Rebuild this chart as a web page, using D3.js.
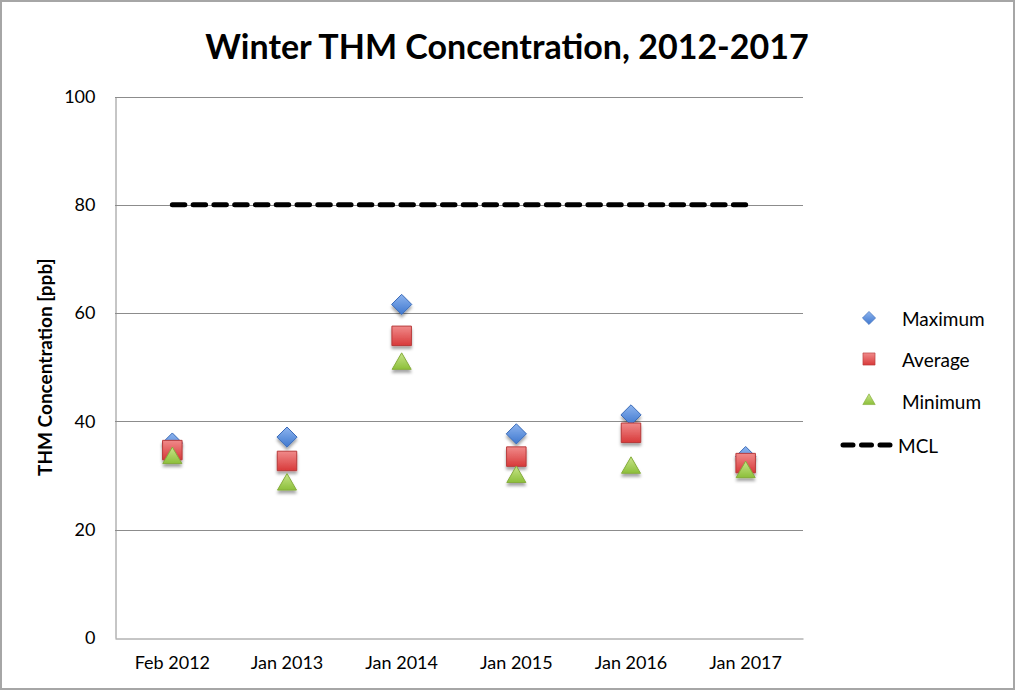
<!DOCTYPE html>
<html><head><meta charset="utf-8">
<script src="https://cdn.jsdelivr.net/npm/d3@7"></script>
<style>body{margin:0;background:#fff;} svg{display:block;}</style>
</head><body>
<script>
const categories = ["Feb 2012","Jan 2013","Jan 2014","Jan 2015","Jan 2016","Jan 2017"];
const maximum = [36.0, 37.1, 61.6, 37.7, 41.2, 33.5];
const average = [34.7, 32.7, 55.8, 33.5, 37.9, 32.3];
const minimum = [33.6, 28.7, 51.0, 30.1, 31.8, 31.0];
const mcl = [80, 80, 80, 80, 80, 80];
const yTicks = [0, 20, 40, 60, 80, 100];
const seriesNames = ["Maximum", "Average", "Minimum", "MCL"];

const W = 1017, H = 692;
const m = {left:115, right:214, top:96.5, bottom:54};
const svg = d3.select("body").append("svg").attr("width", W).attr("height", H);
const defs = svg.append("defs");

function grad(id, c1, c2){
  const g = defs.append("linearGradient").attr("id", id).attr("x1",0).attr("y1",0).attr("x2",0).attr("y2",1);
  g.append("stop").attr("offset","0%").attr("stop-color",c1);
  g.append("stop").attr("offset","100%").attr("stop-color",c2);
}
grad("gBlue", "#8db4ee", "#3f78cf");
grad("gRed", "#f08a8a", "#d83a3a");
grad("gGreen", "#c8e58a", "#8cbf3a");
const f = defs.append("filter").attr("id","shadow").attr("x","-50%").attr("y","-50%").attr("width","200%").attr("height","200%");
f.append("feDropShadow").attr("dx",0).attr("dy",3).attr("stdDeviation",1.6).attr("flood-color","#000").attr("flood-opacity",0.35);

svg.append("rect").attr("x",1).attr("y",1).attr("width",1013).attr("height",688)
  .attr("fill","#fff").attr("stroke","#a6a6a6").attr("stroke-width",2);

const x = d3.scaleBand().domain(categories).range([m.left, W - m.right]);
const y = d3.scaleLinear().domain([0,100]).range([H - m.bottom, m.top]);
const font = "Lato, 'Open Sans', sans-serif";

// gridlines
svg.append("g").selectAll("line").data(yTicks.filter(d=>d>0)).join("line")
  .attr("x1", m.left).attr("x2", W - m.right)
  .attr("y1", d=>Math.round(y(d))+0.5).attr("y2", d=>Math.round(y(d))+0.5)
  .attr("stroke","#8c8c8c").attr("stroke-width",1);

// axes
const ya = svg.append("g").attr("transform",`translate(${m.left+0.5},0)`)
  .call(d3.axisLeft(y).tickValues(yTicks).tickSize(0).tickPadding(20));
ya.select(".domain").attr("stroke","#8c8c8c");
ya.selectAll("text").attr("font-family",font).attr("font-size",18).attr("fill","#000");

const xa = svg.append("g").attr("transform",`translate(0,${Math.round(y(0))+0.5})`)
  .call(d3.axisBottom(x).tickSize(0).tickPadding(18));
xa.select(".domain").attr("stroke","#8c8c8c");
xa.selectAll("text").attr("font-family",font).attr("font-size",18).attr("fill","#000");

// title
svg.append("text").attr("x", 507).attr("y", 59).attr("text-anchor","middle")
  .attr("font-family",font).attr("font-weight","bold").attr("font-size",34)
  .attr("fill","#000").text("Winter THM Concentration, 2012-2017");

// y label
svg.append("text").attr("transform",`translate(52,${(y(0)+y(100))/2}) rotate(-90)`)
  .attr("text-anchor","middle").attr("font-family",font).attr("font-weight","bold")
  .attr("font-size",19).attr("fill","#000").text("THM Concentration [ppb]");

// MCL line
const cx = d => x(d) + x.bandwidth()/2;
const line = d3.line().x((d,i)=>cx(categories[i])).y(d=>y(d));
svg.append("path").datum(mcl).attr("d", line).attr("fill","none")
  .attr("stroke","#000").attr("stroke-width",5).attr("stroke-linecap","round")
  .attr("stroke-dasharray","12.5 8.28");

// markers
const sym = {
  Maximum: {path: d3.symbol().type(d3.symbolDiamond2).size(260)(), fill:"url(#gBlue)", stroke:"#3a6bb8"},
  Average: {path: d3.symbol().type(d3.symbolSquare).size(380)(), fill:"url(#gRed)", stroke:"#b83a3a"},
  Minimum: {path: d3.symbol().type(d3.symbolTriangle2).size(260)(), fill:"url(#gGreen)", stroke:"#86ad3d"}
};
const data = {Maximum: maximum, Average: average, Minimum: minimum};
["Maximum","Average","Minimum"].forEach(name=>{
  const s = sym[name];
  svg.append("g").selectAll("path").data(data[name]).join("path")
    .attr("d", s.path)
    .attr("transform",(d,i)=>`translate(${cx(categories[i])},${y(d) + (name==="Minimum"?2:0)})`)
    .attr("fill", s.fill).attr("stroke", s.stroke).attr("stroke-width",1)
    .attr("filter","url(#shadow)");
});

// legend
const lg = svg.append("g");
const legY = [318, 359, 401, 445];
seriesNames.forEach((name,i)=>{
  if (name === "MCL") {
    lg.append("line").attr("x1",843).attr("x2",895).attr("y1",legY[i]).attr("y2",legY[i])
      .attr("stroke","#000").attr("stroke-width",5).attr("stroke-linecap","round")
      .attr("stroke-dasharray","10 8.5");
  } else {
    const s = sym[name];
    const sc = name==="Average" ? 0.62 : 0.65;
    lg.append("path").attr("d", s.path)
      .attr("transform",`translate(869,${legY[i]}) scale(${sc})`)
      .attr("fill", s.fill).attr("stroke", s.stroke).attr("stroke-width",1);
  }
  lg.append("text").attr("x", name==="MCL"?898:902).attr("y", legY[i]+8)
    .attr("font-family",font).attr("font-size",19).attr("fill","#000").text(name);
});
</script>
</body></html>
